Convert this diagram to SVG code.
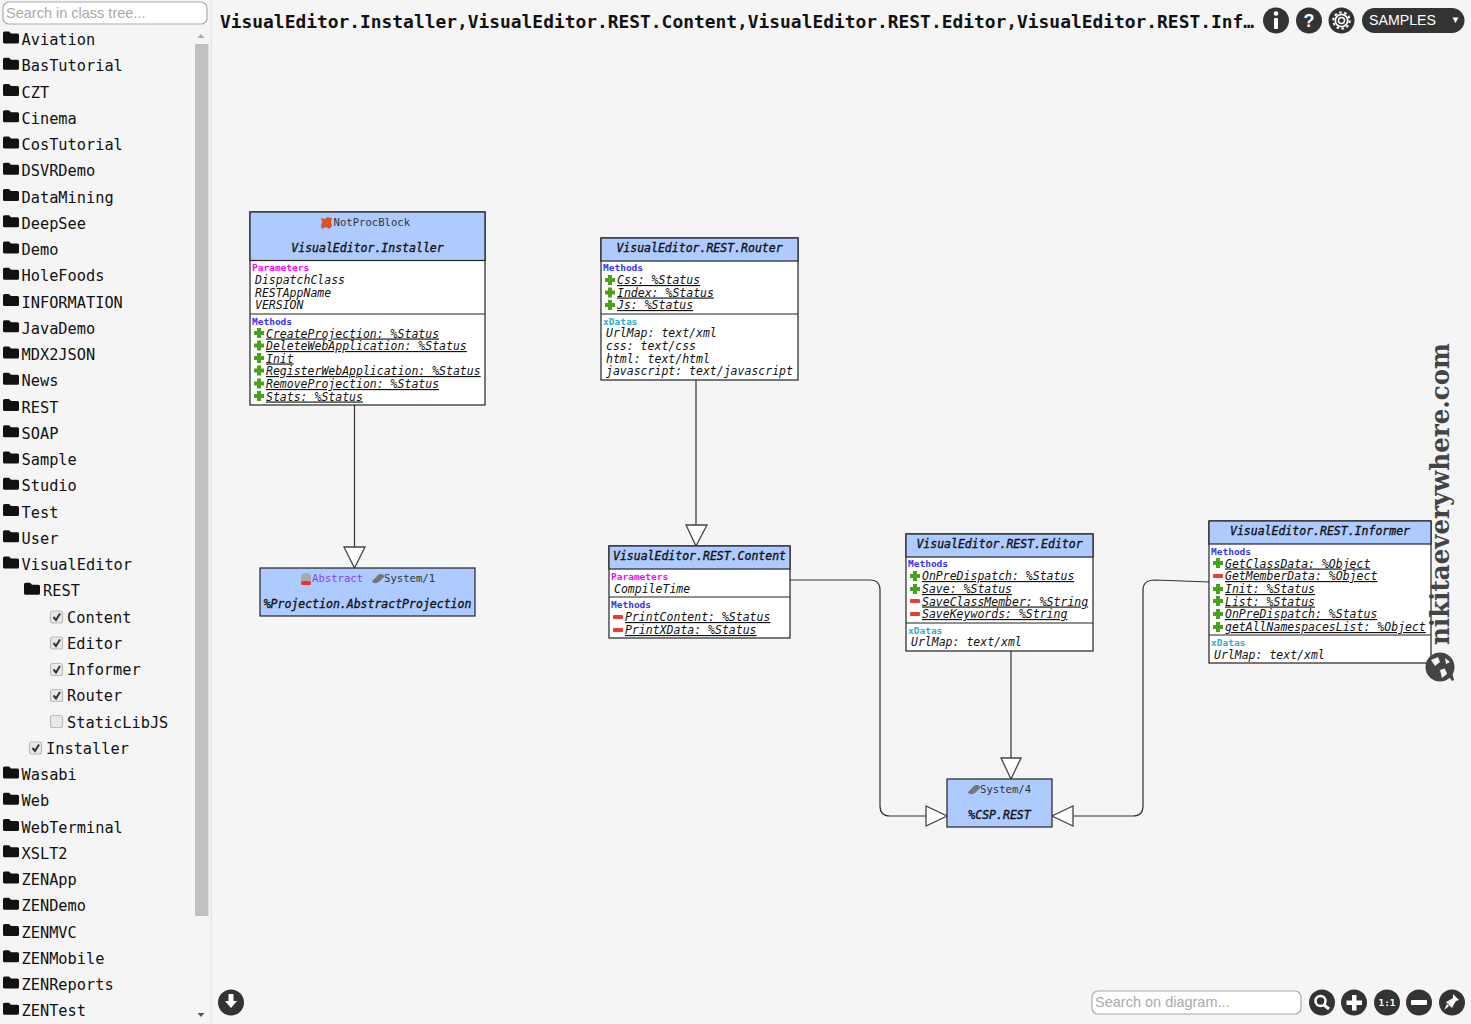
<svg xmlns="http://www.w3.org/2000/svg" width="1471" height="1024" viewBox="0 0 1471 1024">
<style>
text{font-family:"DejaVu Sans Mono",monospace;fill:#111}
.t{font-size:15.3px}
.box{fill:#fff;stroke:#222;stroke-width:1.2}
.head{fill:#aecbff;stroke:#222;stroke-width:1.2}
.div{stroke:#222;stroke-width:1.1;fill:none}
.name{font-size:11.5px;font-style:italic;text-anchor:middle;stroke:#111;stroke-width:.35px}
.sm{font-size:9.5px;font-weight:700}
.param{fill:#f0f}.meth{fill:#33f}.xd{fill:#2ab0c8}
.it{font-size:11.5px;font-style:italic}
.m{font-size:11.5px;font-style:italic;text-decoration:underline}
.hint{font-size:10.6px;fill:#333}
.conn{fill:none;stroke:#333;stroke-width:1.2}
.tri{fill:#fff;stroke:#444;stroke-width:1.3}
.btn{fill:#333}
.wh{fill:#fff}
.inp{fill:#fff;stroke:#aaa;stroke-width:1.2}
.ph{font-family:"Liberation Sans",Arial,sans-serif;font-size:14.5px;fill:#aaa}
.cb{fill:#e8e8e8;stroke:#bbb;stroke-width:1.2}
</style>
<defs>
<path id="folder" d="M3 33q0-1.500 1.500-1.500h4.500l2 2h6.500q1.500 0 1.500 1.500v7q0 1.500-1.500 1.500h-13q-1.500 0-1.500-1.500z" fill="#111"/>
<path id="plus" d="M3 0h4v3h3v4h-3v3h-4v-3h-3v-4h3z" fill="#4aa31f"/>
<rect id="minus" x="0" y="3" width="10" height="4" rx="1" fill="#ee3a30"/>
<g id="check"><rect class="cb" x="0" y="0" width="12" height="12" rx="2"/><path d="M3 6l2.500 3 4-6.500" fill="none" stroke="#333" stroke-width="2"/></g>
<path id="sys" d="M0 8l6-6q1.500-1.500 3.500-1q3 0.500 2.500 3l-5 5q-2 1.500-5 1q-2.500-0.500-2-2z" fill="#777"/>
</defs>
<rect width="1471" height="1024" fill="#f5f5f5"/>

<g id="sidebar">
<rect x="210.500" y="0" width="1.500" height="1024" fill="#e6e6e6"/>
<rect class="inp" x="3" y="2" width="204" height="22" rx="6"/>
<text class="ph" x="6" y="18">Search in class tree...</text>
<path d="M197.500 38l3.500-4 3.500 4z" fill="#aaa"/>
<rect x="195" y="44" width="13.500" height="872" fill="#c1c1c1"/>
<path d="M197.500 1013l3.500 4 3.500-4z" fill="#555"/>
<g id="tree">
<use href="#folder" y="0"/><text class="t" x="21.500" y="45">Aviation</text>
<use href="#folder" y="26.250"/><text class="t" x="21.500" y="71.300">BasTutorial</text>
<use href="#folder" y="52.500"/><text class="t" x="21.500" y="97.500">CZT</text>
<use href="#folder" y="78.750"/><text class="t" x="21.500" y="123.800">Cinema</text>
<use href="#folder" y="105"/><text class="t" x="21.500" y="150">CosTutorial</text>
<use href="#folder" y="131.250"/><text class="t" x="21.500" y="176.300">DSVRDemo</text>
<use href="#folder" y="157.500"/><text class="t" x="21.500" y="202.500">DataMining</text>
<use href="#folder" y="183.750"/><text class="t" x="21.500" y="228.800">DeepSee</text>
<use href="#folder" y="210"/><text class="t" x="21.500" y="255">Demo</text>
<use href="#folder" y="236.250"/><text class="t" x="21.500" y="281.300">HoleFoods</text>
<use href="#folder" y="262.500"/><text class="t" x="21.500" y="307.500">INFORMATION</text>
<use href="#folder" y="288.750"/><text class="t" x="21.500" y="333.800">JavaDemo</text>
<use href="#folder" y="315"/><text class="t" x="21.500" y="360">MDX2JSON</text>
<use href="#folder" y="341.250"/><text class="t" x="21.500" y="386.300">News</text>
<use href="#folder" y="367.500"/><text class="t" x="21.500" y="412.500">REST</text>
<use href="#folder" y="393.750"/><text class="t" x="21.500" y="438.800">SOAP</text>
<use href="#folder" y="420"/><text class="t" x="21.500" y="465">Sample</text>
<use href="#folder" y="446.250"/><text class="t" x="21.500" y="491.300">Studio</text>
<use href="#folder" y="472.500"/><text class="t" x="21.500" y="517.500">Test</text>
<use href="#folder" y="498.750"/><text class="t" x="21.500" y="543.800">User</text>
<use href="#folder" y="525"/><text class="t" x="21.500" y="570">VisualEditor</text>
<use href="#folder" x="21" y="551.250"/><text class="t" x="43" y="596.300">REST</text>
<use href="#check" x="50.500" y="611"/><text class="t" x="67" y="622.500">Content</text>
<use href="#check" x="50.500" y="637"/><text class="t" x="67" y="648.800">Editor</text>
<use href="#check" x="50.500" y="663.500"/><text class="t" x="67" y="675">Informer</text>
<use href="#check" x="50.500" y="689.500"/><text class="t" x="67" y="701.300">Router</text>
<rect class="cb" x="50.500" y="715.500" width="12" height="12" rx="2"/><text class="t" x="67" y="727.500">StaticLibJS</text>
<use href="#check" x="29.500" y="742"/><text class="t" x="46" y="753.800">Installer</text>
<use href="#folder" y="735"/><text class="t" x="21.500" y="780">Wasabi</text>
<use href="#folder" y="761.250"/><text class="t" x="21.500" y="806.300">Web</text>
<use href="#folder" y="787.500"/><text class="t" x="21.500" y="832.500">WebTerminal</text>
<use href="#folder" y="813.750"/><text class="t" x="21.500" y="858.800">XSLT2</text>
<use href="#folder" y="840"/><text class="t" x="21.500" y="885">ZENApp</text>
<use href="#folder" y="866.250"/><text class="t" x="21.500" y="911.300">ZENDemo</text>
<use href="#folder" y="892.500"/><text class="t" x="21.500" y="937.500">ZENMVC</text>
<use href="#folder" y="918.750"/><text class="t" x="21.500" y="963.800">ZENMobile</text>
<use href="#folder" y="945"/><text class="t" x="21.500" y="990">ZENReports</text>
<use href="#folder" y="971.250"/><text class="t" x="21.500" y="1016.300">ZENTest</text>
</g>
</g>

<g id="toolbar">
<text x="220" y="28" style="font-size:17.9px;font-weight:700">VisualEditor.Installer,VisualEditor.REST.Content,VisualEditor.REST.Editor,VisualEditor.REST.Inf…</text>
<circle class="btn" cx="1276" cy="20.500" r="13"/>
<rect class="wh" x="1274" y="18" width="4" height="11" rx="1"/><circle class="wh" cx="1276" cy="13.500" r="2.300"/>
<circle class="btn" cx="1309" cy="20.500" r="13"/>
<text x="1309" y="26.500" text-anchor="middle" style="font-family:'Liberation Sans',sans-serif;font-size:18px;font-weight:700;fill:#fff">?</text>
<circle class="btn" cx="1341.500" cy="20.500" r="13"/>
<circle cx="1341.500" cy="20.500" r="3" fill="none" stroke="#fff" stroke-width="1.500"/><circle cx="1341.500" cy="20.500" r="6.200" fill="none" stroke="#fff" stroke-width="1.800"/><circle cx="1341.500" cy="20.500" r="8.200" fill="none" stroke="#fff" stroke-width="2" stroke-dasharray="2.500 2.650"/>
<rect class="btn" x="1362" y="8" width="102.500" height="25" rx="12.500"/>
<text x="1369" y="24.500" style="font-family:'Liberation Sans',sans-serif;font-size:14.2px;fill:#fff">SAMPLES</text>
<path d="M1452.500 17.500h6l-3 5.500z" fill="#fff"/>
</g>

<g id="connectors">
<path class="conn" d="M354.500 405V547"/><path class="tri" d="M344 547H365L354.500 568z"/>
<path class="conn" d="M696 380V525"/><path class="tri" d="M686 525H707L696 546z"/>
<path class="conn" d="M1011 651V758"/><path class="tri" d="M1001 758H1021L1011 779z"/>
<path class="conn" d="M790 580H870Q880 580 880 590V806Q880 816 890 816H926"/><path class="tri" d="M926 806V826L947 816z"/>
<path class="conn" d="M1209 582L1155 580Q1143 580 1143 590V806Q1143 816 1133 816H1073"/><path class="tri" d="M1073 806V826L1052 816z"/>
</g>

<g id="node-installer">
<rect class="box" x="250" y="212" width="235" height="193"/>
<rect class="head" x="250" y="212" width="235" height="48.500"/>
<path d="M321 218l4 1 2-2 5 1-1 4 1 4-3 3-3-2-4 2-1-3 1-4z" fill="#d9532c"/>
<text class="hint" x="333.500" y="226">NotProcBlock</text>
<text class="name" x="367.500" y="251.500">VisualEditor.Installer</text>
<path class="div" d="M250 314H485"/>
<text class="sm param" x="252" y="271">Parameters</text>
<text class="it" x="255" y="284">DispatchClass</text>
<text class="it" x="255" y="296.500">RESTAppName</text>
<text class="it" x="255" y="309">VERSION</text>
<text class="sm meth" x="252" y="325">Methods</text>
<use href="#plus" x="254" y="328"/><text class="m" x="266" y="337.500">CreateProjection: %Status</text>
<use href="#plus" x="254" y="340.500"/><text class="m" x="266" y="350">DeleteWebApplication: %Status</text>
<use href="#plus" x="254" y="353"/><text class="m" x="266" y="362.500">Init</text>
<use href="#plus" x="254" y="365.500"/><text class="m" x="266" y="375">RegisterWebApplication: %Status</text>
<use href="#plus" x="254" y="378.500"/><text class="m" x="266" y="388">RemoveProjection: %Status</text>
<use href="#plus" x="254" y="391"/><text class="m" x="266" y="400.500">Stats: %Status</text>
</g>

<g id="node-abstract-projection">
<rect class="head" x="260" y="568" width="215" height="48"/>
<path d="M301 581v-4q0-4 5-4t5 4v4z" fill="#aaa"/><rect x="301" y="581" width="10" height="4" rx="1.500" fill="#e33"/>
<text class="hint" x="312" y="582" style="fill:#8a3cf0">Abstract</text>
<use href="#sys" x="372" y="573"/>
<text class="hint" x="384" y="582">System/1</text>
<text class="name" x="367.500" y="607.500">%Projection.AbstractProjection</text>
</g>

<g id="node-router">
<rect class="box" x="601" y="238" width="197" height="142"/>
<rect class="head" x="601" y="238" width="197" height="23"/>
<text class="name" x="699.500" y="251.500">VisualEditor.REST.Router</text>
<path class="div" d="M601 314H798"/>
<text class="sm meth" x="603" y="271">Methods</text>
<use href="#plus" x="605" y="275"/><text class="m" x="617" y="284">Css: %Status</text>
<use href="#plus" x="605" y="287.500"/><text class="m" x="617" y="296.500">Index: %Status</text>
<use href="#plus" x="605" y="300"/><text class="m" x="617" y="309">Js: %Status</text>
<text class="sm xd" x="603" y="325">xDatas</text>
<text class="it" x="606" y="337">UrlMap: text/xml</text>
<text class="it" x="606" y="350">css: text/css</text>
<text class="it" x="606" y="362.500">html: text/html</text>
<text class="it" x="606" y="375">javascript: text/javascript</text>
</g>

<g id="node-content">
<rect class="box" x="609" y="546" width="181" height="92"/>
<rect class="head" x="609" y="546" width="181" height="23"/>
<text class="name" x="699.500" y="560">VisualEditor.REST.Content</text>
<path class="div" d="M609 597H790"/>
<text class="sm param" x="611" y="580">Parameters</text>
<text class="it" x="614" y="593">CompileTime</text>
<text class="sm meth" x="611" y="608">Methods</text>
<use href="#minus" x="613" y="612"/><text class="m" x="625" y="621">PrintContent: %Status</text>
<use href="#minus" x="613" y="625"/><text class="m" x="625" y="634">PrintXData: %Status</text>
</g>

<g id="node-editor">
<rect class="box" x="906" y="534" width="187" height="117"/>
<rect class="head" x="906" y="534" width="187" height="23"/>
<text class="name" x="999.500" y="548">VisualEditor.REST.Editor</text>
<path class="div" d="M906 623H1093"/>
<text class="sm meth" x="908" y="567">Methods</text>
<use href="#plus" x="910" y="571"/><text class="m" x="922" y="580">OnPreDispatch: %Status</text>
<use href="#plus" x="910" y="584"/><text class="m" x="922" y="593">Save: %Status</text>
<use href="#minus" x="910" y="596"/><text class="m" x="922" y="605.500">SaveClassMember: %String</text>
<use href="#minus" x="910" y="609"/><text class="m" x="922" y="618">SaveKeywords: %String</text>
<text class="sm xd" x="908" y="633.500">xDatas</text>
<text class="it" x="911" y="646">UrlMap: text/xml</text>
</g>

<g id="node-informer">
<rect class="box" x="1209" y="521" width="222" height="142"/>
<rect class="head" x="1209" y="521" width="222" height="23"/>
<text class="name" x="1320" y="535">VisualEditor.REST.Informer</text>
<path class="div" d="M1209 635H1431"/>
<text class="sm meth" x="1211" y="554.500">Methods</text>
<use href="#plus" x="1213" y="558"/><text class="m" x="1225" y="567.500">GetClassData: %Object</text>
<use href="#minus" x="1213" y="571"/><text class="m" x="1225" y="580">GetMemberData: %Object</text>
<use href="#plus" x="1213" y="584"/><text class="m" x="1225" y="593">Init: %Status</text>
<use href="#plus" x="1213" y="596"/><text class="m" x="1225" y="605.500">List: %Status</text>
<use href="#plus" x="1213" y="609"/><text class="m" x="1225" y="618">OnPreDispatch: %Status</text>
<use href="#plus" x="1213" y="622"/><text class="m" x="1225" y="631">getAllNamespacesList: %Object</text>
<text class="sm xd" x="1211" y="645.500">xDatas</text>
<text class="it" x="1214" y="659">UrlMap: text/xml</text>
</g>

<g id="node-csp-rest">
<rect class="head" x="947" y="779" width="105" height="48"/>
<use href="#sys" x="968" y="784"/>
<text class="hint" x="980" y="793">System/4</text>
<text class="name" x="999.500" y="818.500">%CSP.REST</text>
</g>

<g id="watermark">
<text transform="translate(1448.500 645) rotate(-90)" textLength="302" lengthAdjust="spacingAndGlyphs" style="font-family:'DejaVu Serif',serif;font-size:26px;font-weight:700;fill:#444">nikitaeverywhere.com</text>
<circle cx="1440" cy="667" r="14.500" fill="#444"/>
<path d="M1431 660l7-3 2 5-5 4zM1440 670l6-2 1 6-5 4zM1445 658l5 4-4 2z" fill="#f5f5f5"/>
<path d="M1444 668l8 13 2-1-3-11z" fill="#444"/>
</g>

<g id="bottombar">
<circle class="btn" cx="231" cy="1002.500" r="13"/>
<path class="wh" d="M228.500 994h5v7h3.500l-6 7-6-7h3.500z"/>
<rect class="inp" x="1092" y="991" width="209" height="23" rx="6"/>
<text class="ph" x="1095" y="1007">Search on diagram...</text>
<circle class="btn" cx="1322" cy="1002.500" r="13"/>
<circle cx="1320.500" cy="1001" r="5" fill="none" stroke="#fff" stroke-width="2.500"/><path d="M1324 1005l5 4" stroke="#fff" stroke-width="3"/>
<circle class="btn" cx="1354" cy="1002.500" r="13"/>
<path class="wh" d="M1352 995h4.500v5.500h5.500v4.500h-5.500v5.500h-4.500v-5.500h-5.500v-4.500h5.500z"/>
<circle class="btn" cx="1387" cy="1002.500" r="13"/>
<text x="1387" y="1006" text-anchor="middle" style="font-size:9.5px;font-weight:700;fill:#fff">1:1</text>
<circle class="btn" cx="1419" cy="1002.500" r="13"/>
<rect class="wh" x="1411" y="1000" width="16" height="5" rx="1"/>
<circle class="btn" cx="1452" cy="1002.500" r="13"/>
<path class="wh" d="M1453 994l6 6-3 1-3 5-1 2-6-6 2-1 5-3zM1447 1004l2 2-5 4z"/>
</g>
</svg>
